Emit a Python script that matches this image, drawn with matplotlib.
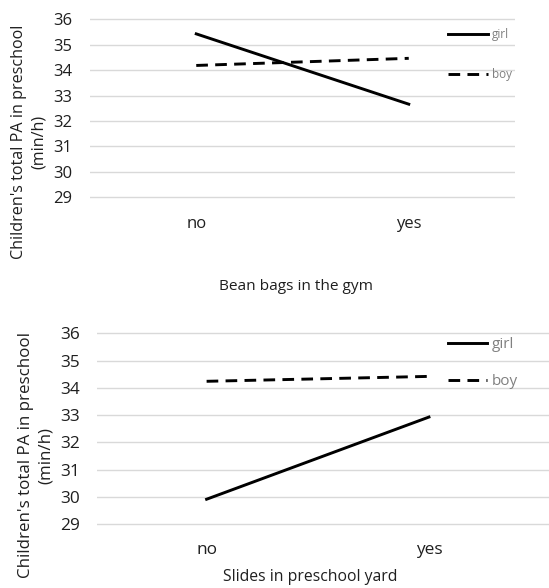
import matplotlib
matplotlib.use('Agg')
import matplotlib.pyplot as plt

plt.rcParams['font.family'] = ['Open Sans', 'DejaVu Sans']

categories = ['no', 'yes']
yticks = [29, 30, 31, 32, 33, 34, 35, 36]
# bean bags in the gym
bean_girl = [35.42, 32.66]
bean_boy = [34.18, 34.46]
# slides in preschool yard
slide_girl = [29.92, 32.93]
slide_boy = [34.24, 34.42]

ylab = "Children's total PA in preschool\n(min/h)"
txt = '#1f1f1f'

W, H = 549, 588
fig = plt.figure(figsize=(W / 100, H / 100), dpi=100)


def px_axes(left, top, right, bottom):
    return fig.add_axes([left / W, 1 - bottom / H, (right - left) / W, (bottom - top) / H])


def style(ax, xlim, tickfs, xpad, ypad):
    ax.set_ylim(28.8, 36.2)
    ax.set_xlim(*xlim)
    ax.set_yticks(yticks)
    ax.set_xticks(range(len(categories)))
    ax.set_xticklabels(categories)
    ax.grid(axis='y', color='#d9d9d9', lw=1)
    ax.set_axisbelow(True)
    for s in ax.spines.values():
        s.set_visible(False)
    ax.tick_params(axis='both', length=0, labelsize=tickfs, colors=txt)
    ax.tick_params(axis='x', pad=xpad)
    ax.tick_params(axis='y', pad=ypad)


# top panel
ax1 = px_axes(90, 14, 515, 202.5)
x = range(len(categories))
ax1.plot(x, bean_girl, color='black', lw=2.1, label='girl')
ax1.plot(x, bean_boy, color='black', lw=2.1, dashes=(4, 2.5), label='boy')
style(ax1, (-0.5, 1.5), 12, 9.5, 13)
leg = ax1.legend(loc='upper left', bbox_to_anchor=(448 / W, 1 - 28 / H), bbox_transform=fig.transFigure,
                 frameon=False, fontsize=8.5, handlelength=3.4, handletextpad=0.3, labelspacing=2.28,
                 borderpad=0, borderaxespad=0)
for t in leg.get_texts():
    t.set_color('#808080')
fig.text(29 / W, 1 - 142 / H, ylab, rotation=90, ha='center', va='center', fontsize=11.6,
         color=txt, multialignment='center', linespacing=1.35)
fig.text(296 / W, 1 - 286 / H, 'Bean bags in the gym', ha='center', va='center', fontsize=11.1,
         color=txt)

# bottom panel
ax2 = px_axes(97, 327.8, 549, 529.8)
ax2.plot(x, slide_girl, color='black', lw=2.1, label='girl')
ax2.plot(x, slide_boy, color='black', lw=2.1, dashes=(4, 2.5), label='boy')
style(ax2, (-0.493, 1.54), 12.4, 8.5, 12)
leg = ax2.legend(loc='upper left', bbox_to_anchor=(448 / W, 1 - 337 / H), bbox_transform=fig.transFigure,
                 frameon=False, fontsize=11, handlelength=2.55, handletextpad=0.3, labelspacing=1.45,
                 borderpad=0, borderaxespad=0)
for t in leg.get_texts():
    t.set_color('#808080')
fig.text(36 / W, 1 - 455 / H, ylab, rotation=90, ha='center', va='center', fontsize=12.2,
         color=txt, multialignment='center', linespacing=1.35)
fig.text(310 / W, 1 - 577 / H, 'Slides in preschool yard', ha='center', va='center', fontsize=11.3,
         color=txt)

fig.savefig('out.png', dpi=100)
